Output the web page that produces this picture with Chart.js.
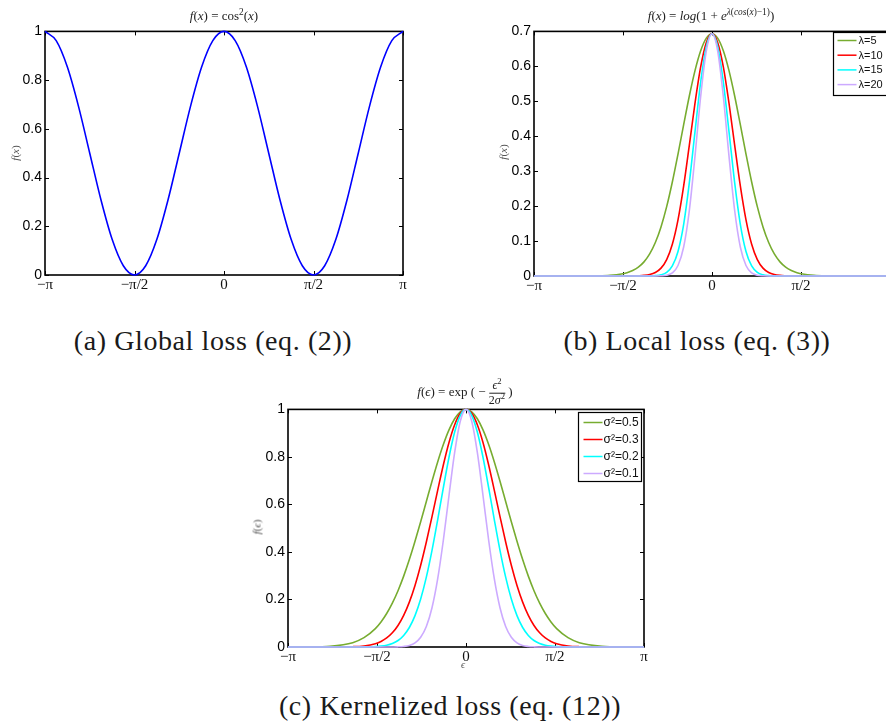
<!DOCTYPE html>
<html>
<head>
<meta charset="utf-8">
<script src="https://cdn.jsdelivr.net/npm/chart.js@4.4.1/dist/chart.umd.min.js"></script>
<style>
  html, body { margin: 0; padding: 0; background: #fff; }
  body { width: 886px; height: 726px; position: relative; overflow: hidden; }
  .box { position: absolute; }
  .box canvas { display: block; }
  .tex { position: absolute; white-space: nowrap; color: #222; font-family: 'Liberation Serif', serif;
         transform: translate(-50%, -50%); line-height: 1; }
  .ttl { font-size: 13px; }
  .ylab { font-size: 11px; color: #555; transform: translate(-50%, -50%) rotate(-90deg); }
  .cap { font-size: 28px; letter-spacing: 0.6px; color: #1a1a1a; }
  sup { font-size: 72%; vertical-align: 0.5em; line-height: 0; }
  .frac { display: inline-block; vertical-align: middle; text-align: center; font-size: 12px; }
  .frac span { display: block; line-height: 1.15; }
  .frac .num { border-bottom: 1px solid #222; padding: 0 2px; }
</style>
</head>
<body>

<div class="box" style="left:0px;top:20px"><canvas id="chartA" width="420" height="280"></canvas></div>
<div class="box" style="left:490px;top:20px"><canvas id="chartB" width="420" height="280"></canvas></div>
<div class="box" style="left:245px;top:398px"><canvas id="chartC" width="420" height="270"></canvas></div>

<div class="tex ttl" style="left:224px;top:15px"><i>f</i>(<i>x</i>) = cos<sup>2</sup>(<i>x</i>)</div>
<div class="tex ttl" style="left:711px;top:15px"><i>f</i>(<i>x</i>) = <i>log</i>(1 + <i>e</i><sup><i>λ</i>(<i>cos</i>(<i>x</i>)−1)</sup>)</div>
<div class="tex ttl" style="left:465px;top:393px"><i>f</i>(<i>ϵ</i>) = exp ( − <span class="frac"><span class="num"><i>ϵ</i><sup>2</sup></span><span>2<i>σ</i><sup>2</sup></span></span> )</div>

<div class="tex ylab" style="left:15px;top:153px"><i>f</i>(<i>x</i>)</div>
<div class="tex ylab" style="left:503px;top:152px"><i>f</i>(<i>x</i>)</div>
<div class="tex ylab" style="left:257px;top:527px"><i>f</i>(<i>ϵ</i>)</div>
<div class="tex" style="left:463px;top:665px;font-size:10px;color:#555"><i>ϵ</i></div>

<div class="tex cap" style="left:213px;top:341px">(a) Global loss (eq. (2))</div>
<div class="tex cap" style="left:697px;top:341px">(b) Local loss (eq. (3))</div>
<div class="tex cap" style="left:450px;top:706px">(c) Kernelized loss (eq. (12))</div>

<script>
// shared x tick marks (radians) and their labels
const xTicks = [-3.1416, -1.5708, 0, 1.5708, 3.1416];
const xTickLabels = ['−π', '−π/2', '0', 'π/2', 'π'];

// (a) global loss
const xCos = [-3.1416, -2.9452, -2.7489, -2.5525, -2.3562, -2.1598, -1.9635, -1.7671, -1.5708,
  -1.3744, -1.1781, -0.9817, -0.7854, -0.5890, -0.3927, -0.1963, 0, 0.1963, 0.3927, 0.5890,
  0.7854, 0.9817, 1.1781, 1.3744, 1.5708, 1.7671, 1.9635, 2.1598, 2.3562, 2.5525, 2.7489, 2.9452, 3.1416];
const yCos = [1, 0.9619, 0.8536, 0.6913, 0.5, 0.3087, 0.1464, 0.0381, 0, 0.0381, 0.1464, 0.3087,
  0.5, 0.6913, 0.8536, 0.9619, 1, 0.9619, 0.8536, 0.6913, 0.5, 0.3087, 0.1464, 0.0381, 0,
  0.0381, 0.1464, 0.3087, 0.5, 0.6913, 0.8536, 0.9619, 1];
const yTicksA = [0, 0.2, 0.4, 0.6, 0.8, 1];
const yLabelsA = ['0', '0.2', '0.4', '0.6', '0.8', '1'];

// (b) and (c) share the same sample positions
const xLoss = [-3.1416, -2.8, -2.4, -2.0, -1.8, -1.6, -1.5, -1.4, -1.3, -1.2, -1.1, -1.0, -0.9, -0.8,
  -0.7, -0.6, -0.5, -0.4, -0.3, -0.2, -0.1, 0, 0.1, 0.2, 0.3, 0.4, 0.5, 0.6, 0.7, 0.8, 0.9, 1.0,
  1.1, 1.2, 1.3, 1.4, 1.5, 1.6, 1.8, 2.0, 2.4, 2.8, 3.1416];

// (b) local loss
const lambdaLabels = ['λ=5', 'λ=10', 'λ=15', 'λ=20'];
const lambda5 = [0, 0.0001, 0.0002, 0.0008, 0.0022, 0.0058, 0.0096, 0.0156, 0.0253, 0.0404, 0.0631,
  0.0957, 0.1404, 0.1984, 0.2690, 0.3490, 0.4332, 0.5152, 0.5877, 0.6445, 0.6807, 0.6931, 0.6807,
  0.6445, 0.5877, 0.5152, 0.4332, 0.3490, 0.2690, 0.1984, 0.1404, 0.0957, 0.0631, 0.0404, 0.0253,
  0.0156, 0.0096, 0.0058, 0.0022, 0.0008, 0.0002, 0.0001, 0];
const lambda10 = [0, 0, 0, 0, 0, 0, 0.0001, 0.0002, 0.0007, 0.0017, 0.0042, 0.0100, 0.0225, 0.0470,
  0.0909, 0.1607, 0.2578, 0.3745, 0.4946, 0.5985, 0.6685, 0.6931, 0.6685, 0.5985, 0.4946, 0.3745,
  0.2578, 0.1607, 0.0909, 0.0470, 0.0225, 0.0100, 0.0042, 0.0017, 0.0007, 0.0002, 0.0001, 0, 0, 0, 0, 0, 0];
const lambda15 = [0, 0, 0, 0, 0, 0, 0, 0, 0, 0.0001, 0.0003, 0.0010, 0.0034, 0.0105, 0.0290, 0.0703,
  0.1479, 0.2670, 0.4132, 0.5548, 0.6564, 0.6931, 0.6564, 0.5548, 0.4132, 0.2670, 0.1479, 0.0703,
  0.0290, 0.0105, 0.0034, 0.0010, 0.0003, 0.0001, 0, 0, 0, 0, 0, 0, 0, 0, 0];
const lambda20 = [0, 0, 0, 0, 0, 0, 0, 0, 0, 0, 0, 0.0001, 0.0005, 0.0023, 0.0090, 0.0300, 0.0829,
  0.1875, 0.3431, 0.5136, 0.6444, 0.6931, 0.6444, 0.5136, 0.3431, 0.1875, 0.0829, 0.0300, 0.0090,
  0.0023, 0.0005, 0.0001, 0, 0, 0, 0, 0, 0, 0, 0, 0, 0, 0];
const yTicksB = [0, 0.1, 0.2, 0.3, 0.4, 0.5, 0.6, 0.7];
const yLabelsB = ['0', '0.1', '0.2', '0.3', '0.4', '0.5', '0.6', '0.7'];

// (c) kernelized loss
const sigmaLabels = ['σ²=0.5', 'σ²=0.3', 'σ²=0.2', 'σ²=0.1'];
const sigma05 = [0.0001, 0.0004, 0.0032, 0.0183, 0.0392, 0.0773, 0.1054, 0.1409, 0.1845, 0.2369,
  0.2982, 0.3679, 0.4449, 0.5273, 0.6126, 0.6977, 0.7788, 0.8521, 0.9139, 0.9608, 0.9900, 1,
  0.9900, 0.9608, 0.9139, 0.8521, 0.7788, 0.6977, 0.6126, 0.5273, 0.4449, 0.3679, 0.2982, 0.2369,
  0.1845, 0.1409, 0.1054, 0.0773, 0.0392, 0.0183, 0.0032, 0.0004, 0.0001];
const sigma03 = [0, 0, 0.0001, 0.0013, 0.0045, 0.0140, 0.0235, 0.0381, 0.0598, 0.0907, 0.1331,
  0.1889, 0.2592, 0.3442, 0.4419, 0.5488, 0.6592, 0.7659, 0.8607, 0.9355, 0.9835, 1, 0.9835,
  0.9355, 0.8607, 0.7659, 0.6592, 0.5488, 0.4419, 0.3442, 0.2592, 0.1889, 0.1331, 0.0907, 0.0598,
  0.0381, 0.0235, 0.0140, 0.0045, 0.0013, 0.0001, 0, 0];
const sigma02 = [0, 0, 0, 0, 0.0003, 0.0017, 0.0036, 0.0074, 0.0146, 0.0273, 0.0486, 0.0821, 0.1320,
  0.2019, 0.2938, 0.4066, 0.5353, 0.6703, 0.7985, 0.9048, 0.9753, 1, 0.9753, 0.9048, 0.7985,
  0.6703, 0.5353, 0.4066, 0.2938, 0.2019, 0.1320, 0.0821, 0.0486, 0.0273, 0.0146, 0.0074, 0.0036,
  0.0017, 0.0003, 0, 0, 0, 0];
const sigma01 = [0, 0, 0, 0, 0, 0, 0, 0, 0.0002, 0.0007, 0.0024, 0.0067, 0.0174, 0.0408, 0.0863,
  0.1653, 0.2865, 0.4493, 0.6376, 0.8187, 0.9512, 1, 0.9512, 0.8187, 0.6376, 0.4493, 0.2865, 0.1653,
  0.0863, 0.0408, 0.0174, 0.0067, 0.0024, 0.0007, 0.0002, 0, 0, 0, 0, 0, 0, 0, 0];

const curveColors = ['#77AC30', '#FF0000', '#00FFFF', '#CCAAFF'];

// matlab-ish box: frame + inward ticks on all four sides, plus an in-plot legend
const matlabAxes = {
  id: 'matlabAxes',
  beforeDatasetsDraw(chart) {
    const { ctx, chartArea: a, scales: { x, y } } = chart;
    ctx.save();
    ctx.strokeStyle = '#000';
    ctx.lineWidth = 1;
    ctx.beginPath();
    x.ticks.forEach(t => {
      const px = Math.round(x.getPixelForValue(t.value)) + 0.5;
      ctx.moveTo(px, a.bottom); ctx.lineTo(px, a.bottom - 4);
      ctx.moveTo(px, a.top); ctx.lineTo(px, a.top + 4);
    });
    y.ticks.forEach(t => {
      const py = Math.round(y.getPixelForValue(t.value)) + 0.5;
      ctx.moveTo(a.left, py); ctx.lineTo(a.left + 4, py);
      ctx.moveTo(a.right, py); ctx.lineTo(a.right - 4, py);
    });
    ctx.stroke();
    ctx.lineWidth = 1.6;
    ctx.strokeRect(a.left, a.top, a.right - a.left, a.bottom - a.top);
    ctx.restore();
  },
  afterDraw(chart, args, opts) {
    const L = opts.legend;
    if (!L) return;
    const { ctx, chartArea: a } = chart;
    const bx = Math.round(a.right - L.dx - L.w) + 0.5;
    const by = Math.round(a.top + L.dy) + 0.5;
    ctx.save();
    ctx.fillStyle = '#fff';
    ctx.fillRect(bx, by, L.w, L.h);
    ctx.strokeStyle = '#000';
    ctx.lineWidth = 1.2;
    ctx.strokeRect(bx, by, L.w, L.h);
    ctx.font = L.font;
    ctx.textBaseline = 'middle';
    ctx.textAlign = 'left';
    chart.data.datasets.forEach((ds, i) => {
      const yy = by + L.first + i * L.row;
      ctx.strokeStyle = ds.borderColor;
      ctx.lineWidth = 1.5;
      ctx.beginPath();
      ctx.moveTo(bx + L.lx0, yy);
      ctx.lineTo(bx + L.lx1, yy);
      ctx.stroke();
      ctx.fillStyle = '#111';
      ctx.fillText(ds.label, bx + L.tx, yy + 0.5);
    });
    ctx.restore();
  }
};

function makeChart(id, xs, series, yTicks, yLabels, yMax, box, legend) {
  const n = series.length;
  return new Chart(document.getElementById(id), {
    type: 'line',
    data: {
      datasets: series.map((s, i) => ({
        label: s.label,
        data: xs.map((xv, k) => ({ x: xv, y: s.ys[k] })),
        borderColor: s.color,
        borderWidth: 1.6,
        pointRadius: 0,
        fill: false,
        cubicInterpolationMode: 'monotone',
        clip: 3,
        order: n - 1 - i
      }))
    },
    options: {
      responsive: false,
      animation: false,
      events: [],
      layout: { padding: { top: box.padTop, right: box.padRight, left: 0, bottom: 0 } },
      plugins: {
        legend: { display: false },
        tooltip: { enabled: false },
        matlabAxes: { legend: legend }
      },
      scales: {
        x: {
          type: 'linear',
          min: -3.1416,
          max: 3.1416,
          grid: { display: false, drawTicks: false },
          border: { display: false },
          afterBuildTicks: sc => { sc.ticks = xTicks.map(v => ({ value: v })); },
          afterFit: sc => { sc.height = box.xHeight; },
          ticks: {
            autoSkip: false,
            maxRotation: 0,
            padding: 1,
            color: '#111',
            font: { family: 'Liberation Serif', size: 15 },
            callback: (v, i) => xTickLabels[i]
          }
        },
        y: {
          min: 0,
          max: yMax,
          grid: { display: false, drawTicks: false },
          border: { display: false },
          afterBuildTicks: sc => { sc.ticks = yTicks.map(v => ({ value: v })); },
          afterFit: sc => { sc.width = box.yWidth; },
          ticks: {
            padding: 3,
            color: '#000',
            font: { family: 'Liberation Sans', size: 14 },
            callback: (v, i) => yLabels[i]
          }
        }
      }
    },
    plugins: [matlabAxes]
  });
}

makeChart('chartA', xCos, [{ label: 'cos2', ys: yCos, color: '#0000FF' }],
  yTicksA, yLabelsA, 1,
  { padTop: 9, padRight: 17, yWidth: 45, xHeight: 25 }, null);

makeChart('chartB', xLoss, [
    { label: lambdaLabels[0], ys: lambda5, color: curveColors[0] },
    { label: lambdaLabels[1], ys: lambda10, color: curveColors[1] },
    { label: lambdaLabels[2], ys: lambda15, color: curveColors[2] },
    { label: lambdaLabels[3], ys: lambda20, color: curveColors[3] }
  ], yTicksB, yLabelsB, 0.7,
  { padTop: 10, padRight: 20, yWidth: 44, xHeight: 24 },
  { dx: 2, dy: 1, w: 55, h: 63, first: 8, row: 14.7, lx0: 4, lx1: 23, tx: 25, font: '11px "Liberation Sans"' });

makeChart('chartC', xLoss, [
    { label: sigmaLabels[0], ys: sigma05, color: curveColors[0] },
    { label: sigmaLabels[1], ys: sigma03, color: curveColors[1] },
    { label: sigmaLabels[2], ys: sigma02, color: curveColors[2] },
    { label: sigmaLabels[3], ys: sigma01, color: curveColors[3] }
  ], yTicksA, yLabelsA, 1,
  { padTop: 10, padRight: 21, yWidth: 43, xHeight: 21 },
  { dx: 3, dy: 3, w: 63, h: 69, first: 10, row: 17, lx0: 5, lx1: 24, tx: 25, font: '12px "Liberation Sans"' });
</script>
</body>
</html>
